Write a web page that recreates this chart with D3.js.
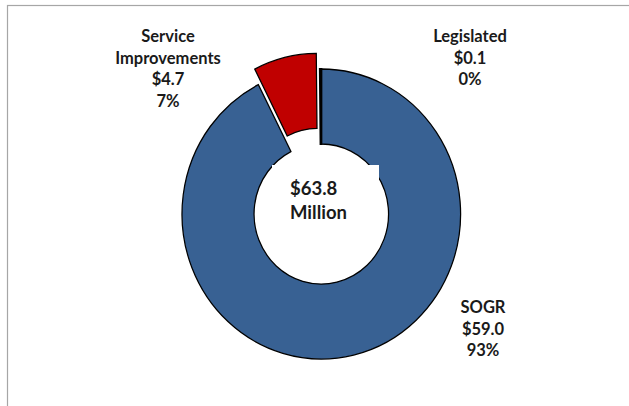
<!DOCTYPE html>
<html>
<head>
<meta charset="utf-8">
<script src="https://cdn.jsdelivr.net/npm/d3@7"></script>
<style>
  body { margin: 0; background: #fff; }
  text { font-family: Lato, "Open Sans", sans-serif; font-weight: 700; fill: #1a1a1a; }
</style>
</head>
<body>
<script>
// data, in $ millions
var categories = ["SOGR", "Service Improvements", "Legislated"]
var values = [59.04, 4.66, 0.1]
var colors = ["#386193", "#c00000", "#111111"]
var exploded = [false, true, false]
var centerLines = ["$63.8", "Million"]

var width = 629
var height = 406

const svg = d3.select("body")
    .append("svg")
    .attr("width", width)
    .attr("height", height)

// chart frame
svg.append("rect")
    .attr("x", 7.5).attr("y", 5.5)
    .attr("width", 700).attr("height", 500)
    .attr("fill", "none")
    .attr("stroke", "#a6a6a6")
    .attr("stroke-width", 1.2)

var total = d3.sum(values)
var data = categories.map((c, i) => ({ name: c, value: values[i], color: colors[i], explode: exploded[i] }))

// center + radii (the donut is a little narrower than tall)
var cx = 321.3, cy = 214
var outerR = 145, innerR = 70
var squash = 139.3 / 145

const pie = d3.pie().sort(null).value(d => d.value)
const arc = d3.arc().innerRadius(innerR).outerRadius(outerR)
const arcs = pie(data)

const g = svg.append("g")
    .attr("transform", "translate(" + cx + "," + cy + ") scale(" + squash + ",1)")

var explodeBy = 16

g.selectAll("path")
    .data(arcs)
    .enter()
    .append("path")
    .attr("d", arc)
    .attr("transform", d => {
        if (!d.data.explode) return null
        var a = (d.startAngle + d.endAngle) / 2
        return "translate(" + (Math.sin(a) * explodeBy) + "," + (-Math.cos(a) * explodeBy) + ")"
    })
    .attr("fill", d => d.data.color)
    .attr("stroke", "#000")
    .attr("stroke-width", d => d.data.name == "Legislated" ? 2.2 : 1.3)

// white box behind the center text (sticks out of the hole a bit, like the original)
svg.append("rect")
    .attr("x", 272).attr("y", 165)
    .attr("width", 107).attr("height", 70)
    .attr("fill", "#fff")

svg.append("g").selectAll("text")
    .data(centerLines)
    .enter()
    .append("text")
    .attr("x", 290)
    .attr("y", (d, i) => 195 + i * 23.5)
    .attr("font-size", "18.5px")
    .text(d => d)

// data labels
var money = d3.format("$.1f")
var pct = d3.format(".0%")
var labelSpots = {
    "SOGR": { x: 483, y: 313, lines: ["SOGR"] },
    "Service Improvements": { x: 168, y: 42, lines: ["Service", "Improvements"] },
    "Legislated": { x: 470, y: 42, lines: ["Legislated"] }
}

const labels = svg.append("g")
data.forEach(d => {
    var spot = labelSpots[d.name]
    var lines = spot.lines.concat([money(d.value), pct(d.value / total)])
    labels.append("g").selectAll("text")
        .data(lines)
        .enter()
        .append("text")
        .attr("x", spot.x)
        .attr("y", (t, i) => spot.y + i * 21.5)
        .attr("text-anchor", "middle")
        .attr("font-size", "16.5px")
        .text(t => t)
})
</script>
</body>
</html>
